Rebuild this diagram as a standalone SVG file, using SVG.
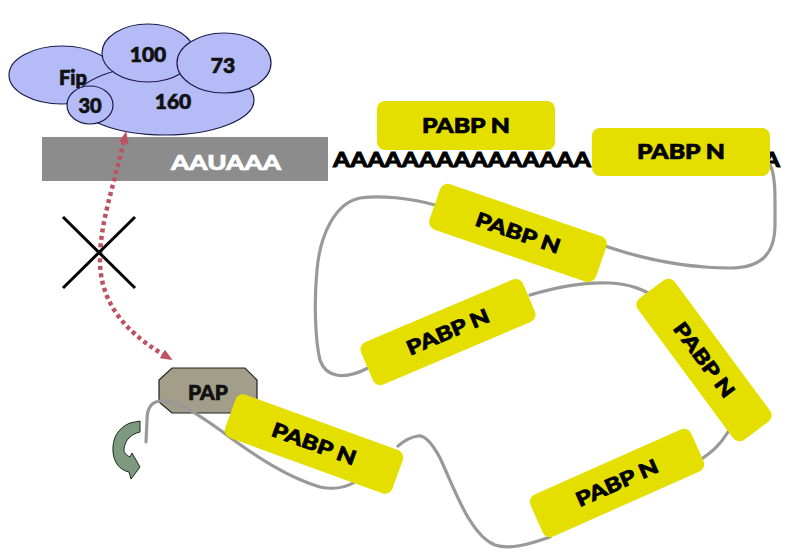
<svg xmlns="http://www.w3.org/2000/svg" width="791" height="552" viewBox="0 0 791 552">
<style>
.sub{fill:#b4bbf6;stroke:#1c1c48;stroke-width:1.2}
.lbl{font-family:Lato,"Open Sans","Liberation Sans",sans-serif;font-weight:900;fill:#111;stroke:#111;stroke-width:0.7;text-anchor:middle}
.pabp rect{fill:#e5df00}
.pabp text{font-family:Lato,"Open Sans","Liberation Sans",sans-serif;font-weight:900;font-size:20px;fill:#000;stroke:#000;stroke-width:0.7;text-anchor:middle}
.tail{fill:none;stroke:#999;stroke-width:3.2;stroke-linecap:round}
.polya{font-family:Lato,"Liberation Sans",sans-serif;font-weight:900;font-size:20px;fill:#000;stroke:#000;stroke-width:0.8}
</style>
<defs>
<marker id="ah" viewBox="0 0 12 10" refX="2" refY="5" markerWidth="12" markerHeight="10" markerUnits="userSpaceOnUse" orient="auto-start-reverse">
<path d="M0,0 L12,5 L0,10 Z" fill="#bf5262"/>
</marker>
</defs>
<rect width="791" height="552" fill="#fff"/>

<g id="mrna">
<rect x="42" y="137" width="286" height="44" fill="#8c8c8c"/>
<text x="226" y="170" class="lbl" style="fill:#fff;stroke:#fff;font-size:21px" textLength="110" lengthAdjust="spacingAndGlyphs">AAUAAA</text>
<text x="333" y="167" class="polya" textLength="258" lengthAdjust="spacingAndGlyphs">AAAAAAAAAAAAAAA</text>
<text x="763" y="167" class="polya" textLength="17" lengthAdjust="spacingAndGlyphs">A</text>
</g>

<g id="cpsf">
<ellipse class="sub" cx="62" cy="75" rx="53" ry="29"/>
<ellipse class="sub" cx="165" cy="100" rx="89" ry="35"/>
<ellipse class="sub" cx="148" cy="53" rx="46" ry="29"/>
<ellipse class="sub" cx="224" cy="63" rx="47" ry="30"/>
<ellipse class="sub" cx="90" cy="105" rx="23" ry="19"/>
<text x="73" y="85" class="lbl" style="font-size:20px">Fip</text>
<text x="148" y="62" class="lbl" style="font-size:21px">100</text>
<text x="223" y="73" class="lbl" style="font-size:21px">73</text>
<text x="173" y="109" class="lbl" style="font-size:21px">160</text>
<text x="90" y="113" class="lbl" style="font-size:20px">30</text>
</g>

<g id="pap">
<polygon points="172,368 245,368 257,380 257,402 245,413 172,413 159,402 159,380" fill="#a39e89" stroke="#222" stroke-width="1.2"/>
<text x="208" y="400" class="lbl" style="font-size:21px">PAP</text>
</g>

<g id="connectors">
<path class="tail" d="M770,165 C776,175 775,200 775,225 C775,255 760,268 730,268 C680,268 640,258 605,246"/>
<path class="tail" d="M435,205 C410,198 380,195 360,198 C335,203 320,235 317,270 C314,300 315,340 320,360 C326,378 345,380 368,368"/>
<path class="tail" d="M530,295 C560,286 590,282 610,283 C630,284 645,290 652,296"/>
<path class="tail" d="M728,432 C720,445 712,452 700,460"/>
<path class="tail" d="M550,537 C530,544 510,550 495,545 C470,535 455,490 440,458 C432,443 425,435 418,436 C410,437 405,440 398,446"/>
<path class="tail" d="M355,482 C345,488 335,490 320,487 C290,478 260,460 220,430 C195,412 175,400 160,401 C150,402 147,410 147,420 L146,442"/>
<path d="M124,141 C114,185 100,222 100,260 C100,300 122,330 164,355" fill="none" stroke="#bf5262" stroke-width="4.5" stroke-dasharray="4 3.5" marker-start="url(#ah)" marker-end="url(#ah)"/>
<path d="M63,217 L135,288 M135,217 L63,288" stroke="#000" stroke-width="3"/>
<path d="M140,421 L140,432 C131,434 125,440 124,449 C124,453 126,455 130,457 L132,453 L140,467 L131,479 L129,472 C120,470 114,463 113,452 C112,438 118,428 130,423 Z" fill="#7d9a80" stroke="#1e2a1e" stroke-width="1"/>
</g>

<g id="pabp1" class="pabp" transform="translate(466,125.5)"><rect x="-89" y="-24.5" width="178" height="49" rx="8"/><text y="7" textLength="88" lengthAdjust="spacingAndGlyphs">PABP N</text></g>
<g id="pabp2" class="pabp" transform="translate(681,152)"><rect x="-89" y="-24" width="178" height="48" rx="8"/><text y="7" textLength="88" lengthAdjust="spacingAndGlyphs">PABP N</text></g>
<g id="pabp3" class="pabp" transform="translate(518,233) rotate(19)"><rect x="-88" y="-24" width="176" height="48" rx="8"/><text y="7" textLength="88" lengthAdjust="spacingAndGlyphs">PABP N</text></g>
<g id="pabp4" class="pabp" transform="translate(448,332) rotate(-23)"><rect x="-88" y="-23" width="176" height="46" rx="8"/><text y="7" textLength="88" lengthAdjust="spacingAndGlyphs">PABP N</text></g>
<g id="pabp5" class="pabp" transform="translate(704,360) rotate(53.5)"><rect x="-88" y="-23" width="176" height="46" rx="8"/><text y="7" textLength="88" lengthAdjust="spacingAndGlyphs">PABP N</text></g>
<g id="pabp6" class="pabp" transform="translate(617,483) rotate(-24)"><rect x="-88" y="-23" width="176" height="46" rx="8"/><text y="7" textLength="88" lengthAdjust="spacingAndGlyphs">PABP N</text></g>
<g id="pabp7" class="pabp" transform="translate(314,444) rotate(20)"><rect x="-89" y="-23" width="178" height="46" rx="8"/><text y="7" textLength="88" lengthAdjust="spacingAndGlyphs">PABP N</text></g>
</svg>
